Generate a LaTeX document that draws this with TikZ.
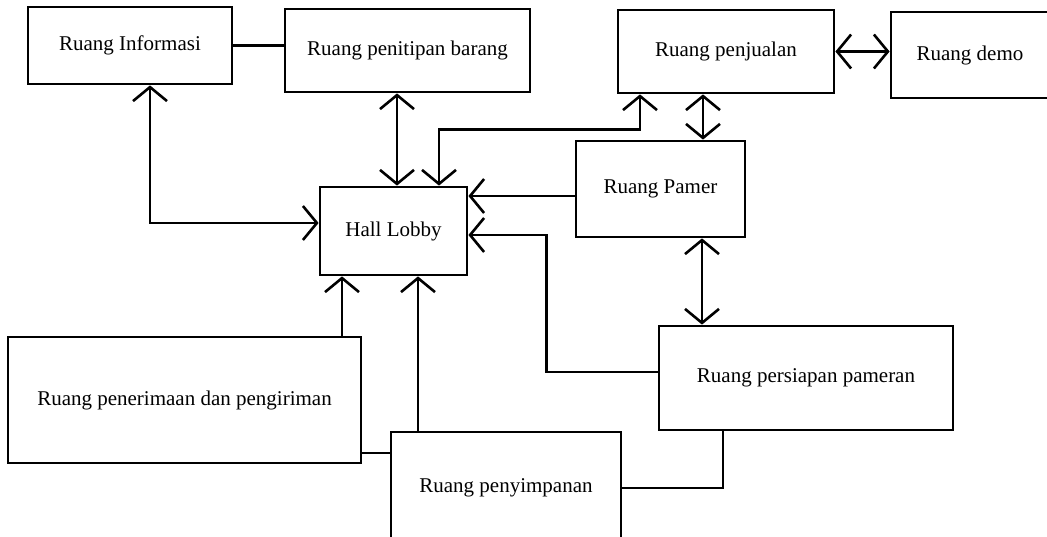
\documentclass[tikz,border=0pt]{standalone}
\usepackage{fontspec}
\setmainfont{Liberation Serif}
\usetikzlibrary{arrows.meta,positioning}

\begin{document}
\begin{tikzpicture}[x=1pt,y=-1pt]
  \tikzstyle{room}=[rectangle, draw=black, line width=2.8pt, inner sep=0pt, align=center, font=\fontsize{21}{24}\selectfont]
  \tikzstyle{link}=[draw, line width=2.6pt]
  \tikzstyle{into}=[link, -{Straight Barb[length=14pt,width=34pt]}]
  \tikzstyle{both}=[link, {Straight Barb[length=14pt,width=34pt]}-{Straight Barb[length=14pt,width=34pt]}]

  \useasboundingbox (0,0) rectangle (1047,537);

  % top row
  \node [room, minimum width=204pt, minimum height=77pt] (info) at (130,45.5) {Ruang Informasi};
  \node [room, minimum width=245pt, minimum height=83pt] (titip) at (407.5,50.5) {Ruang penitipan barang};
  \node [room, minimum width=216pt, minimum height=83pt] (jual) at (726,51.5) {Ruang penjualan};
  \node [room, minimum width=158pt, minimum height=86pt] (demo) at (970,55) {Ruang demo};

  % middle
  \node [room, minimum width=147pt, minimum height=88pt] (hall) at (393.5,231) {Hall Lobby};
  \node [room, minimum width=169pt, minimum height=96pt] (pamer) at (660.5,189) {Ruang Pamer};

  % bottom row
  \node [room, minimum width=353pt, minimum height=126pt] (terima) at (184.5,400) {Ruang penerimaan dan pengiriman};
  \node [room, minimum width=294pt, minimum height=104pt] (siapkan) at (806,378) {Ruang persiapan pameran};
  \node [room, minimum width=230pt, minimum height=112pt] (simpan) at (506,488) {Ruang penyimpanan};

  \draw [link] (info.east) -- (info.east -| titip.west);
  \draw [both] ([xshift=20pt]info.south) |- ([yshift=8pt]hall.west);
  \draw [both] ([xshift=3.5pt]hall.north |- titip.south) -- ([xshift=3.5pt]hall.north);
  \draw [both] ([xshift=-86pt]jual.south) -- ([xshift=-86pt,yshift=-35pt]jual.south) -| ([xshift=45.5pt]hall.north);
  \draw [both] ([xshift=-23pt]jual.south) -- ([xshift=-23pt]jual.south |- pamer.north);
  \draw [both] (jual.east) -- (jual.east -| demo.west);

  \draw [into] ([yshift=-7pt]pamer.west) -- ([yshift=-7pt]pamer.west -| hall.east);
  \draw [into] ([yshift=6pt]siapkan.west) -| ([xshift=78pt,yshift=-4pt]hall.east) -- ([yshift=-4pt]hall.east);
  \draw [both] ([xshift=41.5pt]pamer.south) -- ([xshift=41.5pt]pamer.south |- siapkan.north);

  \draw [into] ([xshift=-51.5pt]hall.south |- terima.north) -- ([xshift=-51.5pt]hall.south);
  \draw [into] ([xshift=24.5pt]hall.south |- simpan.north) -- ([xshift=24.5pt]hall.south);
  \draw [link] ([yshift=-53pt]terima.east) -- ([yshift=-53pt]terima.east -| simpan.west);
  \draw [link] ([xshift=-83pt]siapkan.south) |- (simpan.east);
\end{tikzpicture}
\end{document}
